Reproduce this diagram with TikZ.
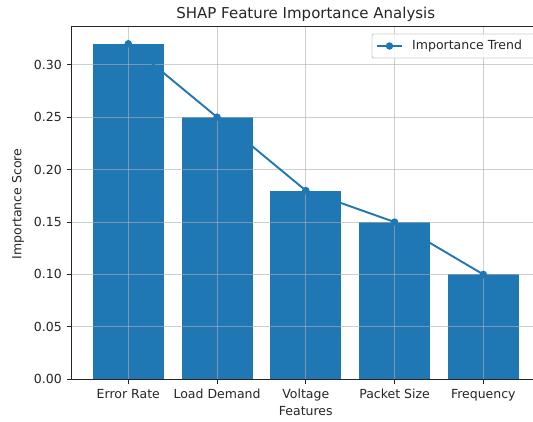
\documentclass[tikz,border=0pt]{standalone}
\usepackage{fontspec}
\setmainfont{DejaVu Sans}
\definecolor{barblue}{HTML}{1F77B4}
\definecolor{gridgray}{HTML}{B0B0B0}
\definecolor{legedge}{HTML}{CCCCCC}
\definecolor{txt}{HTML}{262626}
\begin{document}
\begin{tikzpicture}[x=1pt,y=-1pt,
  bar/.style={fill=barblue,draw=none},
  gridline/.style={draw=gridgray,line width=0.9pt,opacity=0.6},
  spine/.style={draw=black!85,line width=1pt},
  tickmark/.style={draw=black!85,line width=1pt},
  ticklab/.style={font=\fontsize{12.5}{15}\selectfont,text=txt,inner sep=0pt},
  trend/.style={draw=barblue,line width=1.9pt},
  dot/.style={circle,fill=barblue,draw=none,minimum size=7.5pt,inner sep=0pt}]
\useasboundingbox (0,0) rectangle (533,421);
\fill[white] (0,0) rectangle (533,421);
% bars
\begin{scope}[shift={(128.3,379.3)},x=88.75pt,y=1048.6pt]
  \fill[bar] (-0.4,0) rectangle (0.4,0.32);
  \fill[bar] (0.6,0) rectangle (1.4,0.25);
  \fill[bar] (1.6,0) rectangle (2.4,0.18);
  \fill[bar] (2.6,0) rectangle (3.4,0.15);
  \fill[bar] (3.6,0) rectangle (4.4,0.10);
  % grid
  \foreach \i in {0,1,2,3,4} \draw[gridline] (\i,0) -- (\i,0.336);
  \foreach \v in {0.05,0.10,0.15,0.20,0.25,0.30} \draw[gridline] (-0.64,\v) -- (4.64,\v);
  % trend
  \node[dot] (p0) at (0,0.32) {};
  \node[dot] (p1) at (1,0.25) {};
  \node[dot] (p2) at (2,0.18) {};
  \node[dot] (p3) at (3,0.15) {};
  \node[dot] (p4) at (4,0.10) {};
  \draw[trend] (p0.center) -- (p1.center) -- (p2.center) -- (p3.center) -- (p4.center);
  % spines
  \draw[spine] (-0.64,0) -- (4.64,0);
  \draw[spine] (-0.64,0) -- (-0.64,0.336) -- (4.64,0.336);
  % y ticks
  \foreach \v/\l [count=\k] in {0/0.00,0.05/0.05,0.10/0.10,0.15/0.15,0.20/0.20,0.25/0.25,0.30/0.30}{
    \draw[tickmark] (-0.64,\v) -- ++(-4.4pt,0);
    \node[ticklab,anchor=east] (yl\k) at ([xshift=-9.5pt]-0.64,\v) {\l};
  }
  % x ticks
  \foreach \i/\l in {0/Error Rate,1/Load Demand,2/Voltage,3/Packet Size,4/Frequency}{
    \draw[tickmark] (\i,0) -- ++(0,-4.4pt);
    \node[ticklab,anchor=north] (xl\i) at ([yshift=-8.5pt]\i,0) {\strut\l};
  }
\end{scope}
% labels
\node[ticklab] (xlabel) at (305.8,411) {Features};
\node[ticklab,rotate=90] (ylabel) at (18,204) {Importance Score};
\node[font=\fontsize{15}{18}\selectfont,text=txt,inner sep=0pt] (title) at (305.8,14) {SHAP Feature Importance Analysis};
% legend
\draw[draw=legedge,fill=white,fill opacity=0.8,rounded corners=2pt,line width=0.9pt] (372,34) rectangle (535,58);
\coordinate (la) at (377,46);
\coordinate (lb) at (402,46);
\draw[trend] (la) -- (lb);
\node[dot] (lm) at (389.5,46) {};
\node[ticklab,anchor=west] (legtext) at (412,46) {Importance Trend};
\end{tikzpicture}
\end{document}
